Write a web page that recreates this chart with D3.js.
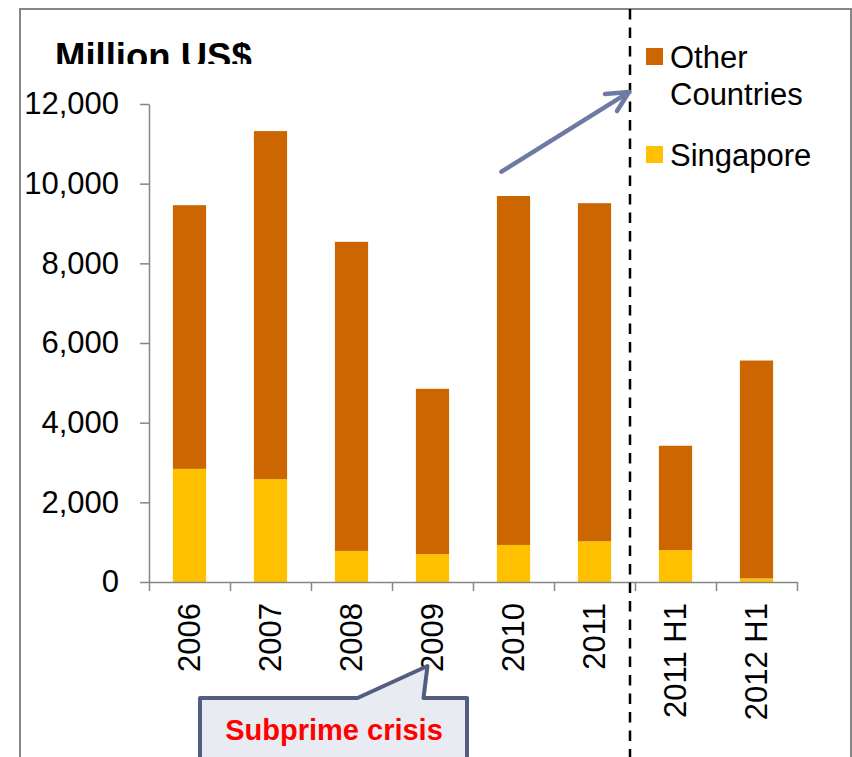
<!DOCTYPE html>
<html>
<head>
<meta charset="utf-8">
<script src="https://cdn.jsdelivr.net/npm/d3@7"></script>
<style>
  html, body { margin: 0; padding: 0; background: #fff; }
  svg { display: block; font-family: "Liberation Sans", Arial, sans-serif; }
</style>
</head>
<body>
<svg id="chart" width="852" height="757"></svg>
<script>
// Outward FDI, million US$, split by destination
const categories = ["2006", "2007", "2008", "2009", "2010", "2011", "2011 H1", "2012 H1"];
const singapore  = [2840, 2580, 780, 700, 930, 1020, 800, 90];
const other      = [6620, 8740, 7760, 4150, 8760, 8490, 2620, 5470];
const yTicks     = [0, 2000, 4000, 6000, 8000, 10000, 12000];
const seriesKeys = ["Singapore", "Other Countries"];
const seriesColors = { "Singapore": "#FFC000", "Other Countries": "#CC6600" };

const rows = categories.map((c, i) => ({ cat: c, "Singapore": singapore[i], "Other Countries": other[i] }));

const svg = d3.select("#chart");
const axisColor = "#868686";

// outer frame
svg.append("rect")
  .attr("x", 20).attr("y", 9).attr("width", 831).attr("height", 820)
  .attr("fill", "none").attr("stroke", axisColor).attr("stroke-width", 2);

const plot = { left: 149, right: 797, top: 104, bottom: 582 };

const y = d3.scaleLinear().domain([0, 12000]).range([plot.bottom, plot.top]);
const x = d3.scaleBand().domain(categories)
  .range([plot.left, plot.right]).paddingInner(0.59).paddingOuter(0.295);
// category boundaries for the tick marks between bars
const xEdge = d3.scaleLinear().domain([0, categories.length]).range([plot.left, plot.right]);

// axis title (clipped at the bottom of its text box)
svg.append("clipPath").attr("id", "titleClip")
  .append("rect").attr("x", 0).attr("y", 0).attr("width", 400).attr("height", 64);
svg.append("text")
  .attr("clip-path", "url(#titleClip)")
  .attr("x", 55).attr("y", 69)
  .attr("font-size", 36.5).attr("font-weight", "bold").attr("fill", "#000")
  .text("Million US$");

// y axis
const yAxis = svg.append("g")
  .attr("transform", `translate(${plot.left},0)`)
  .call(d3.axisLeft(y).tickValues(yTicks).tickFormat(d3.format(",")).tickSize(9).tickPadding(21).tickSizeOuter(0));
yAxis.selectAll("path, line").attr("stroke", axisColor).attr("stroke-width", 1.5);
yAxis.selectAll("text").attr("font-size", 31).attr("fill", "#000")
  .attr("font-family", "\"Liberation Sans\", Arial, sans-serif");

// stacked bars
const stacked = d3.stack().keys(seriesKeys)(rows);
svg.append("g").selectAll("g")
  .data(stacked).join("g")
  .attr("fill", d => seriesColors[d.key])
  .selectAll("rect")
  .data(d => d).join("rect")
  .attr("x", d => x(d.data.cat))
  .attr("width", x.bandwidth())
  .attr("y", d => y(d[1]))
  .attr("height", d => y(d[0]) - y(d[1]));

// x axis with ticks on category boundaries
const xAxis = svg.append("g")
  .attr("transform", `translate(0,${plot.bottom})`)
  .call(d3.axisBottom(xEdge).tickValues(d3.range(categories.length + 1)).tickFormat("").tickSize(9).tickSizeOuter(0));
xAxis.selectAll("path, line").attr("stroke", axisColor).attr("stroke-width", 1.5);

// rotated category labels
svg.append("g").selectAll("text")
  .data(categories).join("text")
  .attr("transform", d => `translate(${x(d) + x.bandwidth() / 2},${plot.bottom + 21}) rotate(-90)`)
  .attr("text-anchor", "end").attr("dy", "0.35em")
  .attr("font-size", 31).attr("fill", "#000")
  .text(d => d);

// dashed divider between annual and half-year figures
const divX = xEdge(6) - 5;
svg.append("line")
  .attr("x1", divX).attr("x2", divX).attr("y1", 9).attr("y2", 757)
  .attr("stroke", "#000").attr("stroke-width", 2.5).attr("stroke-dasharray", "10.5,8");

// legend
const legendItems = [
  { key: "Other Countries", lines: ["Other", "Countries"], y: 48 },
  { key: "Singapore", lines: ["Singapore"], y: 146 }
];
const legend = svg.append("g");
legendItems.forEach(item => {
  legend.append("rect")
    .attr("x", 646).attr("y", item.y).attr("width", 17).attr("height", 17)
    .attr("fill", seriesColors[item.key]);
  item.lines.forEach((ln, j) => {
    legend.append("text")
      .attr("x", 670).attr("y", item.y + 20 + j * 36.5)
      .attr("font-size", 31).attr("fill", "#000")
      .text(ln);
  });
});

// upward trend arrow
const arrowColor = "#6E7AA4";
const ax0 = x("2010") + x.bandwidth() / 2 - 12, ay0 = y(10300);
const ax1 = divX - 1, ay1 = y(12300);
svg.append("line")
  .attr("x1", ax0).attr("y1", ay0).attr("x2", ax1).attr("y2", ay1)
  .attr("stroke", arrowColor).attr("stroke-width", 4.5).attr("stroke-linecap", "round");
svg.append("path")
  .attr("d", `M${ax1 - 24},${ay1 + 2}L${ax1},${ay1}L${ax1 - 12},${ay1 + 19}`)
  .attr("fill", "none").attr("stroke", arrowColor).attr("stroke-width", 4.5)
  .attr("stroke-linecap", "round").attr("stroke-linejoin", "round");

// callout pointing at 2009
const tipX = x("2009") + x.bandwidth() / 2 - 5;
const tipY = 666;
const boxL = 200, boxR = 467, boxT = 698, boxB = 800;
svg.append("path")
  .attr("d", `M${boxL},${boxT}L${tipX - 70},${boxT}L${tipX},${tipY}L${tipX - 4},${boxT}L${boxR},${boxT}L${boxR},${boxB}L${boxL},${boxB}Z`)
  .attr("fill", "#E8EBF1").attr("stroke", "#535D7F").attr("stroke-width", 4)
  .attr("stroke-linejoin", "round");
svg.append("text")
  .attr("x", 334).attr("y", 740).attr("text-anchor", "middle")
  .attr("font-size", 29).attr("font-weight", "bold").attr("fill", "#FF0000")
  .text("Subprime crisis");
</script>
</body>
</html>
